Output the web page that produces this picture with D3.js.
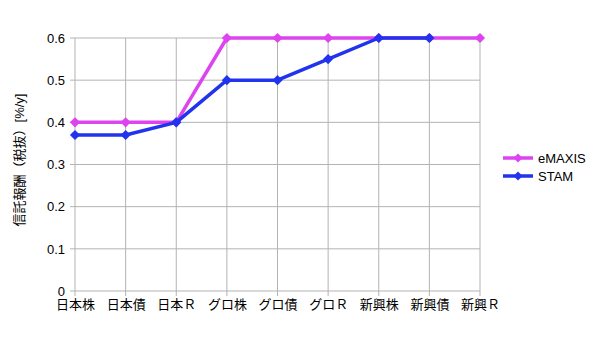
<!DOCTYPE html>
<html>
<head>
<meta charset="utf-8">
<script src="https://cdn.jsdelivr.net/npm/d3@7"></script>
<style>
  body { margin: 0; background: #fff; }
  svg text { font-family: "Liberation Sans", "Noto Sans CJK JP", sans-serif; }
</style>
</head>
<body>
<div id="chart"></div>
<script>
// Data
const categories = ["日本株", "日本債", "日本Ｒ", "グロ株", "グロ債", "グロＲ", "新興株", "新興債", "新興Ｒ"];
const emaxis = [0.4, 0.4, 0.4, 0.6, 0.6, 0.6, 0.6, 0.6, 0.6];
const stam = [0.37, 0.37, 0.4, 0.5, 0.5, 0.55, 0.6, 0.6, null];
const yTicks = [0, 0.1, 0.2, 0.3, 0.4, 0.5, 0.6];
const seriesNames = ["eMAXIS", "STAM"];
const seriesColors = ["#dd44f0", "#2233ee"];

const W = 600, H = 337;
const M = { top: 38, right: 120, bottom: 46, left: 75 };
const innerW = W - M.left - M.right;
const innerH = H - M.top - M.bottom;

const svg = d3.select("#chart").append("svg")
  .attr("width", W)
  .attr("height", H);

const g = svg.append("g")
  .attr("transform", `translate(${M.left}, ${M.top})`);

const x = d3.scalePoint()
  .domain(categories)
  .range([0, innerW]);

const y = d3.scaleLinear()
  .domain([0, 0.6])
  .range([innerH, 0]);

// Grid
g.append("g")
  .selectAll("line")
  .data(yTicks)
  .join("line")
  .attr("x1", -5).attr("x2", innerW)
  .attr("y1", d => y(d)).attr("y2", d => y(d))
  .attr("stroke", "#b3b3b3");

g.append("g")
  .selectAll("line")
  .data(categories)
  .join("line")
  .attr("x1", d => x(d)).attr("x2", d => x(d))
  .attr("y1", 0).attr("y2", innerH + 5)
  .attr("stroke", "#b3b3b3");

// Axes labels
const yAxis = d3.axisLeft(y)
  .tickValues(yTicks)
  .tickFormat(d => d === 0 ? "0" : d3.format(".1f")(d))
  .tickSize(0)
  .tickPadding(10);

g.append("g")
  .call(yAxis)
  .call(a => a.select(".domain").remove())
  .selectAll("text")
  .attr("font-size", 13)
  .attr("fill", "#000");

const xAxis = d3.axisBottom(x)
  .tickSize(0)
  .tickPadding(9);

g.append("g")
  .attr("transform", `translate(0, ${innerH})`)
  .call(xAxis)
  .call(a => a.select(".domain").remove())
  .selectAll("text")
  .attr("font-size", 13)
  .attr("fill", "#000");

// Y title
svg.append("text")
  .attr("transform", `translate(24, 160) rotate(-90)`)
  .attr("text-anchor", "middle")
  .attr("font-size", 13)
  .attr("fill", "#000")
  .text("信託報酬（税抜）[%/y]");

// Lines
const diamond = d3.symbol().type(d3.symbolSquare).size(52);
const data = [emaxis, stam];

data.forEach((vals, i) => {
  const pts = vals.map((v, j) => ({ c: categories[j], v })).filter(d => d.v != null);
  const line = d3.line()
    .x(d => x(d.c))
    .y(d => y(d.v));
  g.append("path")
    .datum(pts)
    .attr("fill", "none")
    .attr("stroke", seriesColors[i])
    .attr("stroke-width", 3.5)
    .attr("stroke-linejoin", "round")
    .attr("d", line);
  g.append("g")
    .selectAll("path")
    .data(pts)
    .join("path")
    .attr("transform", d => `translate(${x(d.c)}, ${y(d.v)}) rotate(45)`)
    .attr("d", diamond)
    .attr("fill", seriesColors[i]);
});

// Legend
const legend = svg.append("g")
  .attr("transform", "translate(503, 158)");

seriesNames.forEach((name, i) => {
  const row = legend.append("g")
    .attr("transform", `translate(0, ${i * 18})`);
  row.append("line")
    .attr("x1", 0).attr("x2", 30)
    .attr("stroke", seriesColors[i])
    .attr("stroke-width", 3.5);
  row.append("path")
    .attr("transform", "translate(15, 0) rotate(45)")
    .attr("d", d3.symbol().type(d3.symbolSquare).size(40))
    .attr("fill", seriesColors[i]);
  row.append("text")
    .attr("x", 35)
    .attr("dy", "0.35em")
    .attr("font-size", 13)
    .attr("fill", "#000")
    .text(name);
});
</script>
</body>
</html>
